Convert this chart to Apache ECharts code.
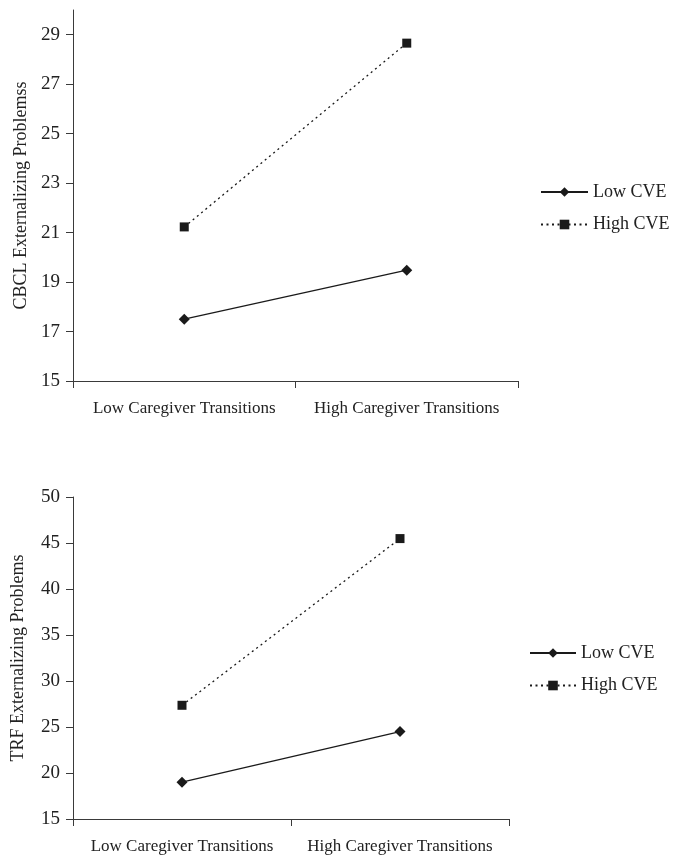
<!DOCTYPE html>
<html><head><meta charset="utf-8">
<script src="https://cdn.jsdelivr.net/npm/echarts@6/dist/echarts.min.js"></script>
<style>html,body{margin:0;padding:0;background:#fff}#c{width:674px;height:856px}</style>
</head><body><div id="c"></div>
<script>
var categories = ['Low Caregiver Transitions', 'High Caregiver Transitions'];
var seriesNames = ['Low CVE', 'High CVE'];
// Top panel: CBCL
var cbclLow = [17.5, 19.48];
var cbclHigh = [21.23, 28.66];
var cbclTicks = [15, 17, 19, 21, 23, 25, 27, 29];
// Bottom panel: TRF
var trfLow = [19.0, 24.5];
var trfHigh = [27.36, 45.48];
var trfTicks = [15, 20, 25, 30, 35, 40, 45, 50];

var FONT = 'Liberation Serif';
var TXT = '#222';
var AX = '#3a3a3a';

function xAxis(gi) {
  return {
    type: 'category', gridIndex: gi, data: categories, boundaryGap: true,
    axisLine: {lineStyle: {color: AX, width: 1}},
    axisTick: {show: true, alignWithLabel: false, length: 7, lineStyle: {color: AX}},
    axisLabel: {color: TXT, fontFamily: FONT, fontSize: 17, margin: 19, interval: 0}
  };
}
function yAxis(gi, name, ticks, gap, max) {
  return {
    type: 'value', gridIndex: gi, min: ticks[0], max: max,
    name: name, nameLocation: 'middle', nameGap: gap,
    nameTextStyle: {color: TXT, fontFamily: FONT, fontSize: 18},
    splitLine: {show: false},
    axisLine: {show: true, lineStyle: {color: AX, width: 1}},
    axisTick: {show: true, length: 7, lineStyle: {color: AX}, customValues: ticks},
    axisLabel: {color: TXT, fontFamily: FONT, fontSize: 19, margin: 13, customValues: ticks}
  };
}
function lineSeries(name, data, gi, solid) {
  return {
    name: name, type: 'line', xAxisIndex: gi, yAxisIndex: gi, data: data,
    symbol: solid ? 'diamond' : 'rect', symbolSize: solid ? 11 : 9,
    itemStyle: {color: '#1a1a1a'},
    lineStyle: {color: '#1a1a1a', width: 1.3, type: solid ? 'solid' : [2, 3.5]},
    animation: false
  };
}

var chart = echarts.init(document.getElementById('c'), null, {renderer: 'canvas'});
chart.setOption({
  animation: false,
  backgroundColor: '#fff',
  grid: [
    {left: 73, top: 10, width: 445, height: 371},
    {left: 73, top: 497, width: 436, height: 322}
  ],
  xAxis: [xAxis(0), xAxis(1)],
  yAxis: [
    yAxis(0, 'CBCL Externalizing Problemss', cbclTicks, 43, 30),
    yAxis(1, 'TRF Externalizing Problems', trfTicks, 46, 50)
  ],
  legend: [
    {orient: 'vertical', left: 535, top: 178, itemWidth: 47, itemHeight: 12, itemGap: 14.5,
     data: [{name: 'Low CVE'}, {name: 'High CVE'}],
     textStyle: {color: TXT, fontFamily: FONT, fontSize: 18}},
    {orient: 'vertical', left: 524, top: 639, itemWidth: 46, itemHeight: 12, itemGap: 14.5,
     data: [{name: 'Low CVE'}, {name: 'High CVE'}],
     textStyle: {color: TXT, fontFamily: FONT, fontSize: 18}}
  ],
  series: [
    lineSeries(seriesNames[0], cbclLow, 0, true),
    lineSeries(seriesNames[1], cbclHigh, 0, false),
    lineSeries(seriesNames[0], trfLow, 1, true),
    lineSeries(seriesNames[1], trfHigh, 1, false)
  ]
});
</script></body></html>
